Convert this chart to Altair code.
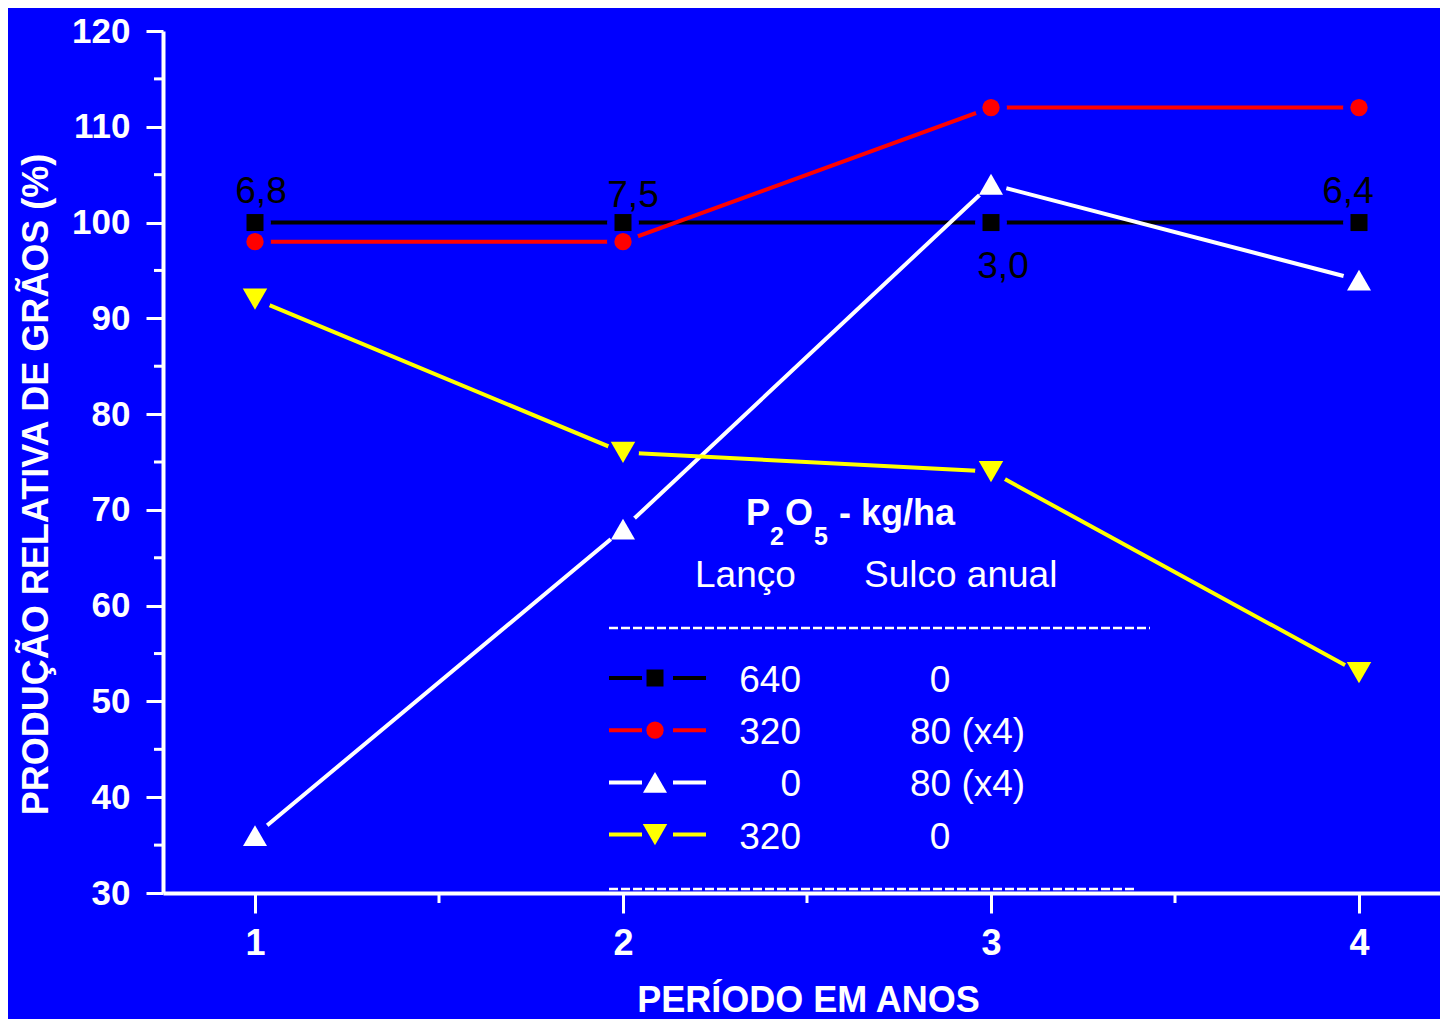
import altair as alt
import pandas as pd

# ---------------- data ----------------
periods = [1, 2, 3, 4]
series_names = ["640/0", "320/80", "0/80", "320/0"]
lanco = ["640", "320", "0", "320"]
sulco = ["0", "80 (x4)", "80 (x4)", "0"]
black_vals = [100, 100, 100, 100]
red_vals = [98, 98, 112, 112]
white_vals = [36, 68, 104, 94]
yellow_vals = [92, 76, 74, 53]
black_labels = ["6,8", "7,5", "3,0", "6,4"]
colors = ["#000000", "#FF0000", "#FFFFFF", "#FFFF00"]
shapes = ["square", "circle", "triangle-up", "triangle-down"]
y_ticks = [30, 40, 50, 60, 70, 80, 90, 100, 110, 120]
y_minor = [35, 45, 55, 65, 75, 85, 95, 105, 115]
x_ticks = [1, 2, 3, 4]
x_minor = [1.5, 2.5, 3.5]

# ---------------- layout ----------------
BG = "#0000FF"
FONT = "Liberation Sans"
W, H = 1277, 862
X0, X1 = 0.75, 0.75 + W / 368.0
Y0, Y1 = 30, 120
marker_sizes = [289, 300, 576, 600]
TOP = 6  # vertical shift of the plot top compared with the reference


def px2x(px):
    return X0 + px * (X1 - X0) / W


def px2y(py):
    py = (py - 868) * 1.0 + H  # keep legend anchored to the bottom
    return Y1 - py * (Y1 - Y0) / H


all_vals = [black_vals, red_vals, white_vals, yellow_vals]
rows = []
for i, name in enumerate(series_names):
    for p, v in zip(periods, all_vals[i]):
        rows.append(dict(x=p, y=v, series=name, color=colors[i],
                         shape=shapes[i], sz=marker_sizes[i], order=i))
df = pd.DataFrame(rows)

xscale = alt.Scale(domain=[X0, X1], nice=False, zero=False)
yscale = alt.Scale(domain=[Y0, Y1], nice=False, zero=False)

x_enc = alt.X("x:Q", scale=xscale, axis=alt.Axis(
    values=x_ticks, format="d", tickSize=20, labelPadding=41,
    labelBaseline="alphabetic", title="PERÍODO EM ANOS",
    titleX=645, titleY=118, titleBaseline="alphabetic", titleAlign="center"))
y_enc = alt.Y("y:Q", scale=yscale, axis=alt.Axis(
    values=y_ticks, format="d", tickSize=17, labelPadding=16, labelFontSize=35,
    title="PRODUÇÃO RELATIVA DE GRÃOS (%)",
    titleX=-116, titleY=453, titleAngle=270, titleBaseline="alphabetic",
    titleAlign="center"))

layers = []

# minor ticks
layers.append(alt.Chart(pd.DataFrame({"y": y_minor})).mark_rule(
    color="white", strokeWidth=3).encode(y=y_enc, x=alt.value(-9), x2=alt.value(0)))
layers.append(alt.Chart(pd.DataFrame({"x": x_minor})).mark_rule(
    color="white", strokeWidth=3).encode(x=x_enc, y=alt.value(H), y2=alt.value(H + 10)))

# lines
layers.append(alt.Chart(df).mark_line(strokeWidth=4).encode(
    x=x_enc, y=y_enc, color=alt.Color("color:N", scale=None), detail="series:N"))

# halos (gap between line and marker)
layers.append(alt.Chart(df).mark_point(
    filled=True, color=BG, opacity=1, size=1018, shape="circle", strokeWidth=0
).encode(x=x_enc, y=y_enc))

# markers
layers.append(alt.Chart(df).mark_point(filled=True, opacity=1, strokeWidth=0).encode(
    x=x_enc, y=y_enc,
    color=alt.Color("color:N", scale=None),
    shape=alt.Shape("shape:N", scale=None),
    size=alt.Size("sz:Q", scale=None),
    order=alt.Order("order:Q")))

# labels on the black series
label_offsets = [(6, -20), (10, -16), (12, 55), (-11, -20)]
for p, v, lab, (ddx, ddy) in zip(periods, black_vals, black_labels, label_offsets):
    layers.append(alt.Chart(pd.DataFrame({"x": [p], "y": [v], "t": [lab]})).mark_text(
        font=FONT, fontSize=37, color="black", align="center",
        baseline="alphabetic", dx=ddx, dy=ddy).encode(x=x_enc, y=y_enc, text="t:N"))

# ---------------- legend ----------------
title_main = pd.DataFrame({"x": [px2x(583), px2x(622), px2x(676)],
                           "y": [px2y(500)] * 3, "t": ["P", "O", "- kg/ha"]})
title_sub = pd.DataFrame({"x": [px2x(607), px2x(651)],
                          "y": [px2y(520)] * 2, "t": ["2", "5"]})
layers.append(alt.Chart(title_main).mark_text(
    font=FONT, fontSize=36, fontWeight="bold", color="white", align="left",
    baseline="alphabetic").encode(x=x_enc, y=y_enc, text="t:N"))
layers.append(alt.Chart(title_sub).mark_text(
    font=FONT, fontSize=25, fontWeight="bold", color="white", align="left",
    baseline="alphabetic").encode(x=x_enc, y=y_enc, text="t:N"))

heads = pd.DataFrame({"x": [px2x(532), px2x(701)], "y": [px2y(562)] * 2,
                      "t": ["Lanço", "Sulco anual"]})
layers.append(alt.Chart(heads).mark_text(
    font=FONT, fontSize=37, color="white", align="left",
    baseline="alphabetic").encode(x=x_enc, y=y_enc, text="t:N"))

dashes = pd.DataFrame({"x": [px2x(446), px2x(446)], "x2": [px2x(987), px2x(974)],
                       "y": [px2y(603), px2y(864)]})
layers.append(alt.Chart(dashes).mark_rule(
    color="white", strokeWidth=2.5, strokeDash=[9, 3]).encode(
    x=x_enc, x2="x2:Q", y=y_enc))

row_y = [653 + 52.2 * i for i in range(4)]
seg = []
mk = []
txt_l = []
txt_s = []
for i in range(4):
    yy = px2y(row_y[i])
    seg.append(dict(x=px2x(446), x2=px2x(479), y=yy, color=colors[i]))
    seg.append(dict(x=px2x(510), x2=px2x(543), y=yy, color=colors[i]))
    mk.append(dict(x=px2x(492), y=yy, color=colors[i], shape=shapes[i], sz=marker_sizes[i]))
    tb = px2y(row_y[i] + 14)
    txt_l.append(dict(x=px2x(638), y=tb, t=lanco[i]))
    txt_s.append(dict(x=px2x(777) if sulco[i] == "0" else px2x(747), y=tb, t=sulco[i],
                      c=sulco[i] == "0"))
seg = pd.DataFrame(seg)
mk = pd.DataFrame(mk)
txt_l = pd.DataFrame(txt_l)
txt_s = pd.DataFrame(txt_s)

layers.append(alt.Chart(seg).mark_rule(strokeWidth=4).encode(
    x=x_enc, x2="x2:Q", y=y_enc, color=alt.Color("color:N", scale=None)))
layers.append(alt.Chart(mk).mark_point(filled=True, opacity=1, strokeWidth=0).encode(
    x=x_enc, y=y_enc,
    color=alt.Color("color:N", scale=None),
    shape=alt.Shape("shape:N", scale=None),
    size=alt.Size("sz:Q", scale=None)))
layers.append(alt.Chart(txt_l).mark_text(
    font=FONT, fontSize=37, color="white", align="right",
    baseline="alphabetic").encode(x=x_enc, y=y_enc, text="t:N"))
layers.append(alt.Chart(txt_s[txt_s.c]).mark_text(
    font=FONT, fontSize=37, color="white", align="center",
    baseline="alphabetic").encode(x=x_enc, y=y_enc, text="t:N"))
layers.append(alt.Chart(txt_s[~txt_s.c]).mark_text(
    font=FONT, fontSize=37, color="white", align="left",
    baseline="alphabetic").encode(x=x_enc, y=y_enc, text="t:N"))

chart = alt.layer(*layers).properties(
    width=W, height=H,
    autosize=alt.AutoSizeParams(type="none"),
    padding={"left": 155, "top": 23, "right": 0, "bottom": 126},
).configure(background=BG, font=FONT).configure_view(stroke=None).configure_axis(
    grid=False, domainColor="white", domainWidth=4, tickColor="white", tickWidth=3,
    labelColor="white", labelFont=FONT, labelFontSize=36, labelFontWeight="bold",
    titleColor="white", titleFont=FONT, titleFontSize=36, titleFontWeight="bold",
)

chart.save("out.html", embed_options={"renderer": "svg", "actions": False})
